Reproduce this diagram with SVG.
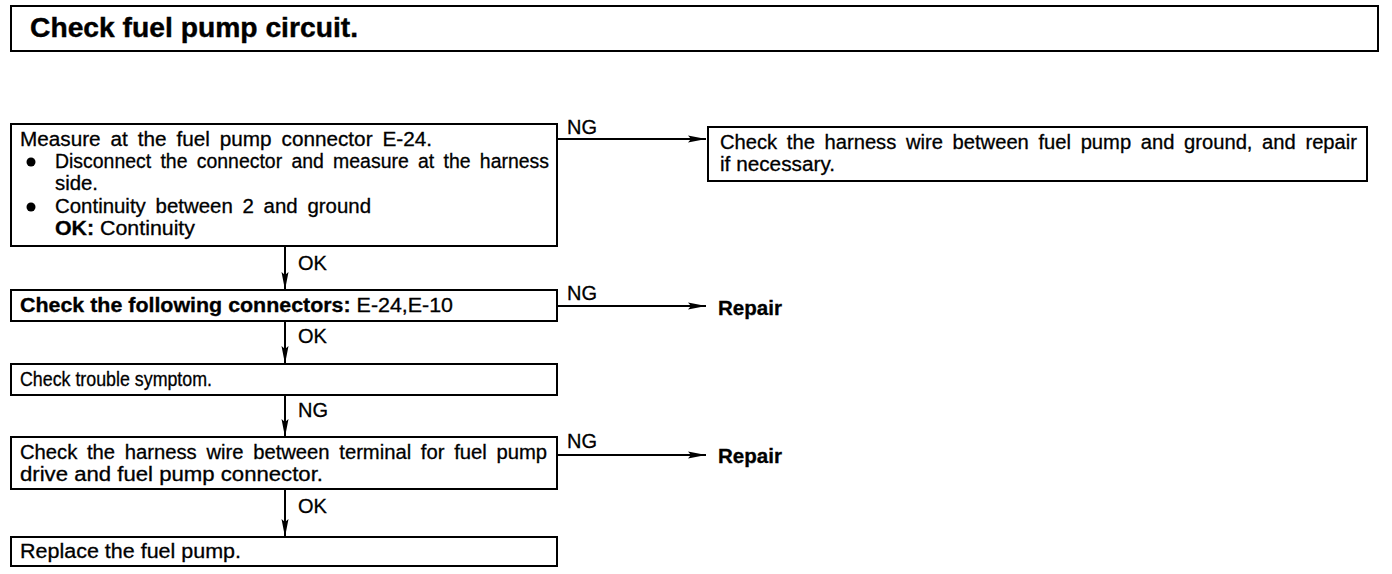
<svg xmlns="http://www.w3.org/2000/svg" width="1392" height="574" viewBox="0 0 1392 574">
<defs>
<marker id="ah" viewBox="0 0 18 8" refX="18" refY="4" markerWidth="18" markerHeight="8" markerUnits="userSpaceOnUse" orient="auto">
<path d="M0,0.5 L18,4 L0,7.5 L3,4 Z" fill="#000"/>
</marker>
</defs>
<style>
.box{fill:#fff;stroke:#000;stroke-width:2}
.t{font-family:"Liberation Sans",Arial,sans-serif;font-size:20px;fill:#000;stroke:#000;stroke-width:0.3}
.w{word-spacing:4px}
.b{font-weight:bold}
.ttl{font-family:"Liberation Sans",Arial,sans-serif;font-size:27px;font-weight:bold;fill:#000;stroke:#000;stroke-width:0.4}
.arr{stroke:#000;stroke-width:2;fill:none;marker-end:url(#ah)}
</style>
<rect width="1392" height="574" fill="#fff"/>
<g id="title">
<rect class="box" x="11" y="6" width="1367" height="45"/>
<text class="ttl" x="30" y="37" textLength="328" lengthAdjust="spacingAndGlyphs">Check fuel pump circuit.</text>
</g>
<g id="connectors">
<path class="arr" d="M557,139 H706"/>
<text class="t" x="567" y="134">NG</text>
<path class="arr" d="M285,246 V290"/>
<text class="t" x="298" y="270">OK</text>
<path class="arr" d="M557,306 H706"/>
<text class="t" x="567" y="300">NG</text>
<path class="arr" d="M285,321 V364"/>
<text class="t" x="298" y="343">OK</text>
<path class="arr" d="M285,395 V437"/>
<text class="t" x="298" y="417">NG</text>
<path class="arr" d="M557,455 H706"/>
<text class="t" x="567" y="448">NG</text>
<path class="arr" d="M285,489 V537"/>
<text class="t" x="298" y="513">OK</text>
</g>
<g id="n1">
<rect class="box" x="11" y="124" width="546" height="122"/>
<text class="t w" x="20" y="146" textLength="412" lengthAdjust="spacingAndGlyphs">Measure at the fuel pump connector E-24.</text>
<circle cx="31" cy="162" r="4.5"/>
<text class="t w" x="55" y="168" textLength="494" lengthAdjust="spacingAndGlyphs">Disconnect the connector and measure at the harness</text>
<text class="t" x="55" y="190" textLength="43" lengthAdjust="spacingAndGlyphs">side.</text>
<circle cx="31" cy="207" r="4.5"/>
<text class="t w" x="55" y="213" textLength="316" lengthAdjust="spacingAndGlyphs">Continuity between 2 and ground</text>
<text class="t" x="55" y="235" textLength="140" lengthAdjust="spacingAndGlyphs"><tspan class="b">OK:</tspan> Continuity</text>
</g>
<g id="n2">
<rect class="box" x="708" y="127" width="659" height="54"/>
<text class="t w" x="720" y="149" textLength="637" lengthAdjust="spacingAndGlyphs">Check the harness wire between fuel pump and ground, and repair</text>
<text class="t" x="720" y="171" textLength="115" lengthAdjust="spacingAndGlyphs">if necessary.</text>
</g>
<g id="n3">
<rect class="box" x="11" y="290" width="546" height="31"/>
<text class="t" x="20" y="312" textLength="433" lengthAdjust="spacingAndGlyphs"><tspan class="b">Check the following connectors:</tspan> E-24,E-10</text>
</g>
<g id="n4">
<text class="t b" x="718" y="315" textLength="64" lengthAdjust="spacingAndGlyphs">Repair</text>
</g>
<g id="n5">
<rect class="box" x="11" y="364" width="546" height="31"/>
<text class="t" x="20" y="386" textLength="192" lengthAdjust="spacingAndGlyphs">Check trouble symptom.</text>
</g>
<g id="n6">
<rect class="box" x="11" y="437" width="546" height="52"/>
<text class="t w" x="20" y="459" textLength="527" lengthAdjust="spacingAndGlyphs">Check the harness wire between terminal for fuel pump</text>
<text class="t" x="20" y="481" textLength="303" lengthAdjust="spacingAndGlyphs">drive and fuel pump connector.</text>
</g>
<g id="n7">
<text class="t b" x="718" y="463" textLength="64" lengthAdjust="spacingAndGlyphs">Repair</text>
</g>
<g id="n8">
<rect class="box" x="11" y="537" width="546" height="29"/>
<text class="t" x="20" y="558" textLength="221" lengthAdjust="spacingAndGlyphs">Replace the fuel pump.</text>
</g>
</svg>
